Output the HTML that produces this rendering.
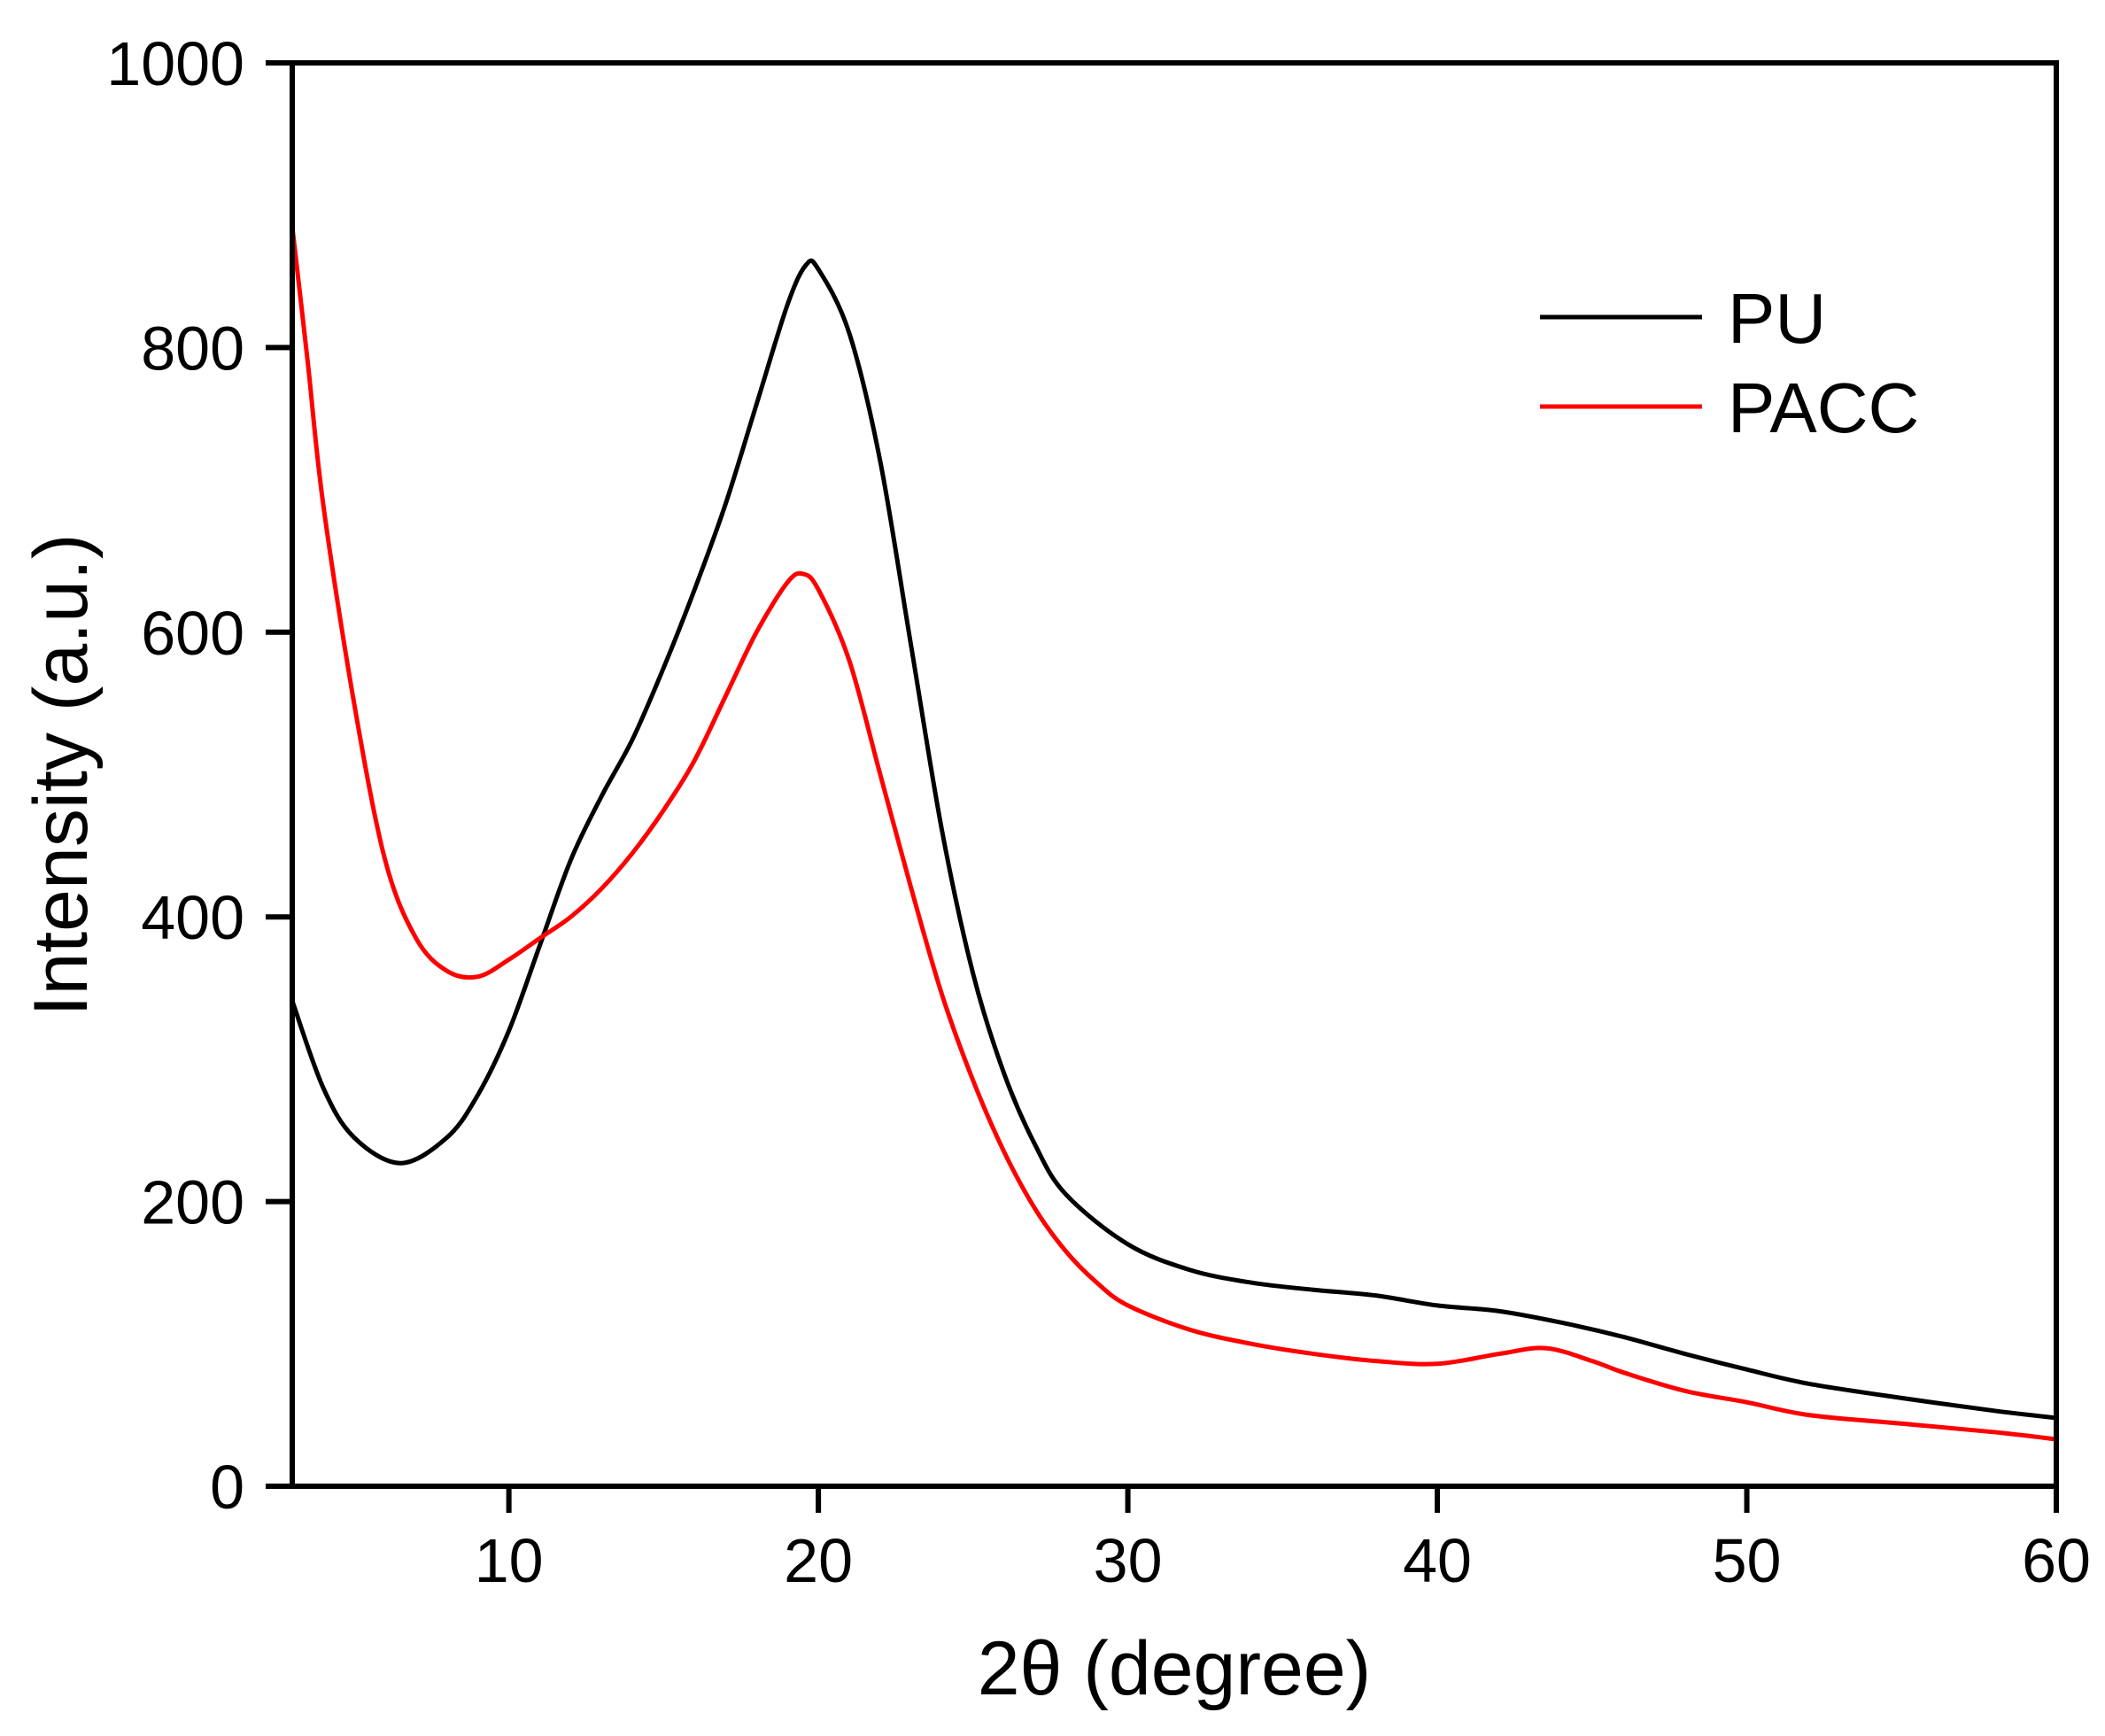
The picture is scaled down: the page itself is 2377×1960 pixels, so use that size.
<!DOCTYPE html>
<html><head><meta charset="utf-8"><style>
html,body{margin:0;padding:0;background:#fff;}
svg{display:block;font-family:"Liberation Sans",Arial,sans-serif;}
</style></head><body>
<svg id="chart" width="2377" height="1960" viewBox="0 0 2377 1960" xmlns="http://www.w3.org/2000/svg">
<g id="curves"></g>
<g id="axes"></g>
<text x="1326" y="1913" font-size="86" text-anchor="middle">2θ (degree)</text>
<text transform="translate(98,875) rotate(-90)" font-size="86" text-anchor="middle">Intensity (a.u.)</text>
<g>
<line x1="1739" y1="358" x2="1922" y2="358" stroke="#000" stroke-width="5"/>
<text x="1951" y="387" font-size="80">PU</text>
<line x1="1739" y1="459" x2="1922" y2="459" stroke="#ff0000" stroke-width="5"/>
<text x="1951" y="488" font-size="80">PACC</text>
</g>
</svg>
<script>
const xTicks=[10,20,30,40,50,60];
const yTicks=[0,200,400,600,800,1000];
const puX=[3,4,5,6.5,8,9,10,11,12,13,14,15,16,17,18,19,19.6,20,21,22,23,24,25,26,27,28,30,32,34,36,38,40,42,44,46,48,50,52,55,58,60];
const puY=[341,280,245,227,245,275,320,380,440,485,525,575,630,690,760,830,858,855,810,720,590,460,360,290,240,205,170,152,143,138,134,127,123,115,105,93,82,72,62,53,48];
const paccX=[3,3.5,4,5,6,7,8,9,10,11,12,13,14,15,16,17,18,19,19.5,20,21,22,23,24,25,26,27,28,29,30,32,34,36,38,40,42,43.5,45,46,48,50,52,55,58,60];
const paccY=[885,790,690,550,440,385,362,358,370,385,400,420,445,475,510,555,600,635,641,630,580,500,420,345,285,235,195,165,143,127,110,100,93,88,86,93,97,88,80,67,59,50,44,38,33];
const L=330,R=2322,T=71,B=1678,X0=3,X1=60,Y0=0,Y1=1000;
const sx=v=>L+(v-X0)/(X1-X0)*(R-L);
const sy=v=>B-(v-Y0)/(Y1-Y0)*(B-T);
const NS="http://www.w3.org/2000/svg";
function mk(t,a){const e=document.createElementNS(NS,t);for(const k in a)e.setAttribute(k,a[k]);return e;}
function smooth(xs,ys){const p=xs.map((x,i)=>[sx(x),sy(ys[i])]);let d="M"+p[0][0]+","+p[0][1];
for(let i=0;i<p.length-1;i++){const p0=p[Math.max(0,i-1)],p1=p[i],p2=p[i+1],p3=p[Math.min(p.length-1,i+2)];
const c1=[p1[0]+(p2[0]-p0[0])/6,p1[1]+(p2[1]-p0[1])/6],c2=[p2[0]-(p3[0]-p1[0])/6,p2[1]-(p3[1]-p1[1])/6];
d+=" C"+c1+" "+c2+" "+p2;}return d;}
const cg=document.getElementById('curves');
const pu=mk('path',{d:smooth(puX,puY),fill:'none',stroke:'#000','stroke-width':5,'stroke-linejoin':'round'});


cg.appendChild(pu);
const pa=mk('path',{d:smooth(paccX,paccY),fill:'none',stroke:'#ff0000','stroke-width':5,'stroke-linejoin':'round'});


cg.appendChild(pa);
const ag=document.getElementById('axes');
const fr=mk('rect',{x:L,y:T,width:R-L,height:B-T,fill:'none',stroke:'#000','stroke-width':6});


ag.appendChild(fr);
xTicks.forEach(v=>{const x=sx(v);
const t=mk('line',{x1:x,y1:B,x2:x,y2:B+30,stroke:'#000','stroke-width':6});


ag.appendChild(t);
const l=mk('text',{x:x,y:1786,'font-size':70,'text-anchor':'middle'});l.textContent=v;


ag.appendChild(l);});
yTicks.forEach(v=>{const y=sy(v);
const t=mk('line',{x1:L-30,y1:y,x2:L,y2:y,stroke:'#000','stroke-width':6});


ag.appendChild(t);
const l=mk('text',{x:276,y:y+25,'font-size':70,'text-anchor':'end'});l.textContent=v;


ag.appendChild(l);});
</script>
</body></html>
